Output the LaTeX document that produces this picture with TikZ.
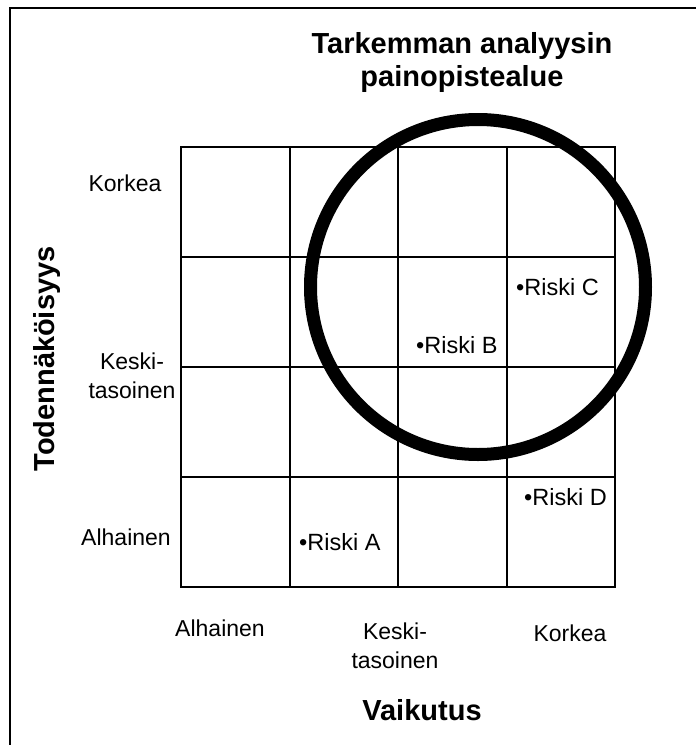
\documentclass[tikz,border=0pt]{standalone}
\usepackage{fontspec}
\setmainfont{Liberation Sans}
\usetikzlibrary{positioning}

\begin{document}
\begin{tikzpicture}[
    x=1pt, y=-1pt,
    axis_lbl/.style={font=\fontsize{29}{33}\selectfont\bfseries, align=center, inner sep=0pt},
    level_lbl/.style={font=\fontsize{23}{29}\selectfont, align=center, inner sep=0pt},
    risk_lbl/.style={font=\fontsize{23.5}{26}\selectfont, inner sep=0pt},
    cell_line/.style={line width=2pt},
    focus/.style={circle, draw, line width=13pt, minimum size=335pt, inner sep=0pt}
]
    \useasboundingbox (0,0) rectangle (696,745);
    \draw[line width=1.2pt] (10,745) -- (10,8) -- (696,8);

    % risk matrix
    \draw[cell_line] (181,147) rectangle (615,587);
    \foreach \i in {1,2,3} {
        \draw[cell_line] ({181+108.5*\i},147) -- ({181+108.5*\i},587);
        \draw[cell_line] (181,{147+110*\i}) -- (615,{147+110*\i});
    }
    \node[focus] (area) at (478,287) {};

    \node[axis_lbl] (title) at (462,62) {Tarkemman analyysin\\painopistealue};
    \node[axis_lbl, rotate=90] (prob) at (47,359) {Todennäköisyys};
    \node[axis_lbl] (impact) at (422,710) {Vaikutus};

    \node[level_lbl] (p_hi) at (125,183) {Korkea};
    \node[level_lbl] (p_mid) at (132,376) {Keski-\\tasoinen};
    \node[level_lbl] (p_lo) at (126,537) {Alhainen};

    \node[level_lbl] (i_lo) at (220,628) {Alhainen};
    \node[level_lbl] (i_mid) at (395,646) {Keski-\\tasoinen};
    \node[level_lbl] (i_hi) at (570,633) {Korkea};

    \node[risk_lbl, anchor=west] (ra) at (299,542) {•Riski A};
    \node[risk_lbl, anchor=west] (rb) at (416,345) {•Riski B};
    \node[risk_lbl, anchor=west] (rc) at (516,287) {•Riski C};
    \node[risk_lbl, anchor=west] (rd) at (524,497) {•Riski D};
\end{tikzpicture}
\end{document}
